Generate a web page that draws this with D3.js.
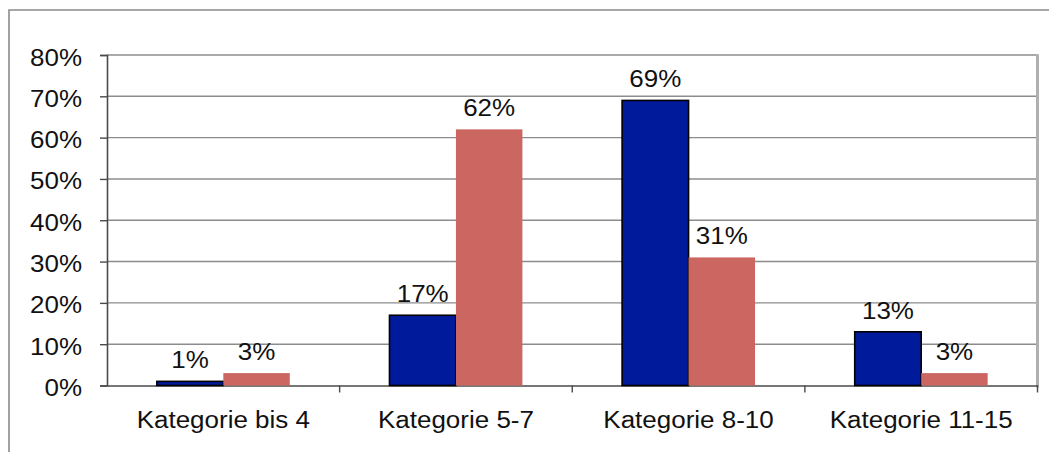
<!DOCTYPE html>
<html>
<head>
<meta charset="utf-8">
<script src="https://cdn.jsdelivr.net/npm/d3@7"></script>
<style>
  html, body { margin: 0; padding: 0; background: #fff; }
  svg { display: block; font-family: "Liberation Sans", Arial, sans-serif; }
</style>
</head>
<body>
<svg id="chart" width="1049" height="452"></svg>
<script>
// Chart data
const categories = ["Kategorie bis 4", "Kategorie 5-7", "Kategorie 8-10", "Kategorie 11-15"];
const seriesNames = ["A", "B"];
const seriesA = [1, 17, 69, 13];
const seriesB = [3, 62, 31, 3];
const yTicks = [0, 10, 20, 30, 40, 50, 60, 70, 80];

const colors = { A: "#001A9C", B: "#CC6660" };
const fontSize = 23;
const stretch = 1.13; // horizontal text stretch

const svg = d3.select("#chart");
const plot = { left: 107, right: 1037.5, top: 55, bottom: 385.5 };

// Outer frame
svg.append("path")
  .attr("d", "M9,452 V10 H1049")
  .attr("fill", "none")
  .attr("stroke", "#8a8a8a")
  .attr("stroke-width", 1.6);

const x0 = d3.scaleBand().domain(categories).range([plot.left, plot.right]).padding(0);
const x1 = d3.scaleBand().domain(seriesNames).range([0, x0.bandwidth()])
  .paddingInner(0).paddingOuter(0.75);
const y = d3.scaleLinear().domain([0, 80]).range([plot.bottom, plot.top]);

// Gridlines
svg.append("g").selectAll("line").data(yTicks.filter(d => d > 0)).join("line")
  .attr("x1", plot.left).attr("x2", plot.right)
  .attr("y1", d => y(d)).attr("y2", d => y(d))
  .attr("stroke", "#8c8c8c").attr("stroke-width", 1.4);

// Right border of plot area
svg.append("line")
  .attr("x1", plot.right).attr("x2", plot.right)
  .attr("y1", plot.top - 0.7).attr("y2", plot.bottom + 2)
  .attr("stroke", "#b0b0b0").attr("stroke-width", 3);

// Y axis
const yAxis = d3.axisLeft(y).tickValues(yTicks).tickSize(7).tickFormat(d => d + "%");
const gy = svg.append("g").attr("transform", `translate(${plot.left},0)`).call(yAxis);
gy.select(".domain").attr("stroke", "#4a4a4a").attr("stroke-width", 1.6);
gy.selectAll(".tick line").attr("stroke", "#4a4a4a").attr("stroke-width", 1.4);
gy.selectAll(".tick text").remove();
gy.selectAll(".tick").append("text")
  .attr("transform", `translate(-25,10) scale(${stretch},1)`)
  .attr("text-anchor", "end")
  .attr("fill", "#111")
  .attr("font-size", fontSize)
  .text(d => d + "%");

// X axis
const xAxis = d3.axisBottom(x0).tickSize(0).tickFormat("");
const gx = svg.append("g").attr("transform", `translate(0,${plot.bottom})`).call(xAxis);
gx.select(".domain").attr("stroke", "#4a4a4a").attr("stroke-width", 1.6);
gx.selectAll(".tick").remove();
// Category separators
svg.append("g").selectAll("line").data(categories.slice(1).concat(["end"])).join("line")
  .attr("x1", (d, i) => plot.left + x0.step() * (i + 1))
  .attr("x2", (d, i) => plot.left + x0.step() * (i + 1))
  .attr("y1", plot.bottom).attr("y2", plot.bottom + 7)
  .attr("stroke", "#4a4a4a").attr("stroke-width", 1.4);
svg.append("g").selectAll("text").data(categories).join("text")
  .attr("transform", d => `translate(${x0(d) + x0.bandwidth() / 2},428) scale(${stretch},1)`)
  .attr("text-anchor", "middle")
  .attr("fill", "#111")
  .attr("font-size", fontSize)
  .text(d => d);

// Bars
const rows = categories.map((c, i) => ({ cat: c, A: seriesA[i], B: seriesB[i] }));
const groups = svg.append("g").selectAll("g").data(rows).join("g")
  .attr("transform", d => `translate(${x0(d.cat)},0)`);

groups.selectAll("rect").data(d => seriesNames.map(s => ({ s, v: d[s] }))).join("rect")
  .attr("x", d => x1(d.s))
  .attr("width", x1.bandwidth())
  .attr("y", d => y(d.v))
  .attr("height", d => y(0) - y(d.v))
  .attr("fill", d => colors[d.s])
  .attr("stroke", d => d.s === "A" ? "#000" : "none")
  .attr("stroke-width", 1.6);

// Value labels
groups.selectAll("text").data(d => seriesNames.map(s => ({ s, v: d[s] }))).join("text")
  .attr("transform", d => `translate(${x1(d.s) + x1.bandwidth() / 2},${y(d.v) - 13}) scale(${stretch},1)`)
  .attr("text-anchor", "middle")
  .attr("fill", "#111")
  .attr("font-size", fontSize)
  .text(d => d.v + "%");
</script>
</body>
</html>
